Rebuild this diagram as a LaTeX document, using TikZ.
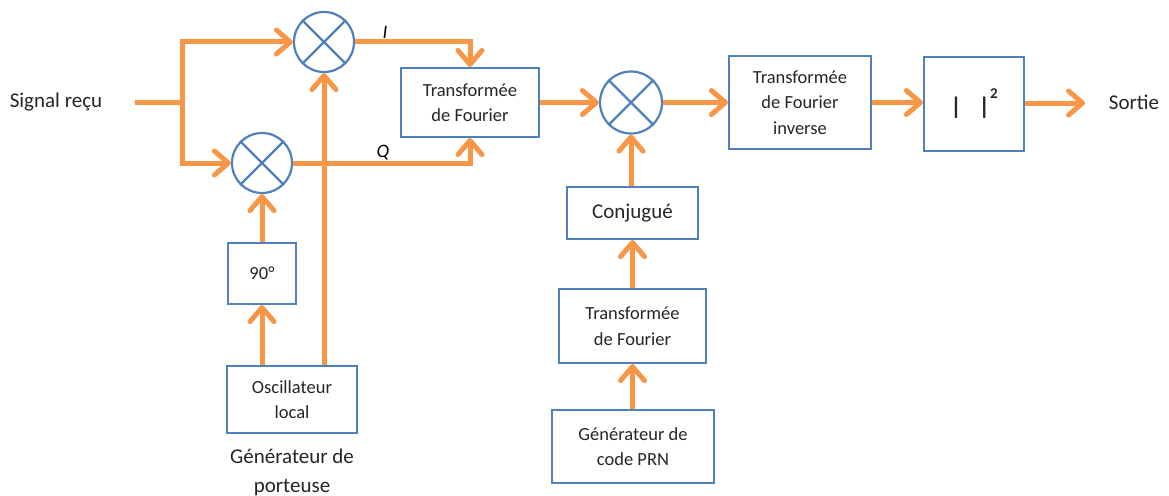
\documentclass[tikz,border=0pt]{standalone}
\usepackage{fontspec}
\setmainfont{Carlito}
\usetikzlibrary{arrows.meta}
\definecolor{orng}{HTML}{F79646}
\definecolor{blu}{HTML}{4F81BD}
\definecolor{txt}{RGB}{38,38,38}
\begin{document}
\begin{tikzpicture}[x=1pt,y=-1pt,
  box/.style={draw=blu, line width=2.2pt, rectangle, inner sep=0pt, align=center, text=txt,
              font=\fontsize{18.5}{25.5}\selectfont},
  mix/.style={draw=blu, line width=2.2pt, circle, minimum size=60pt, inner sep=0pt},
  arr/.style={draw=orng, line width=5pt, -{Straight Barb[length=14pt,width=24pt,round]}},
  wire/.style={draw=orng, line width=5pt},
  lbl/.style={text=txt, font=\fontsize{21}{29}\selectfont, align=center, inner sep=0pt},
  iq/.style={text=black, font=\fontsize{19}{19}\selectfont\itshape, inner sep=0pt}]
\useasboundingbox (0,0) rectangle (1169,495);
\fill[white] (0,0) rectangle (1169,495);

% nodes
\node[lbl] (sig) at (56,102) {Signal reçu};
\node[mix] (m1) at (324,42) {};
\node[mix] (m2) at (262,163) {};
\node[box, minimum width=68pt, minimum height=61pt] (n90) at (262,273.5) {90°};
\node[box, minimum width=130pt, minimum height=67pt] (osc) at (292,399.5) {Oscillateur\\local};
\node[lbl] (gen) at (292,472) {Générateur de\\porteuse};
\node[box, minimum width=138pt, minimum height=69pt] (ft1) at (470,102.5) {Transformée\\de Fourier};
\node[iq] (li) at (385,32) {I};
\node[iq] (lq) at (383,153) {Q};
\node[mix, minimum size=62pt] (m3) at (631,102.5) {};
\node[box, minimum width=142pt, minimum height=93pt] (fti) at (800,102.5) {Transformée\\de Fourier\\inverse};
\node[box, minimum width=100pt, minimum height=94pt, font=\fontsize{24}{25}\selectfont\bfseries] (sq) at (974,104)
  {|\hspace{17pt}|\raisebox{16pt}{\fontsize{15}{15}\selectfont\bfseries 2}};
\node[lbl] (sortie) at (1134,102) {Sortie};
\node[box, minimum width=131pt, minimum height=52pt, font=\fontsize{21}{25}\selectfont] (conj) at (632.5,213) {Conjugué};
\node[box, minimum width=147pt, minimum height=74pt] (ft2) at (632.5,326) {Transformée\\de Fourier};
\node[box, minimum width=162pt, minimum height=73pt] (prn) at (633,446.5) {Générateur de\\code PRN};

% crosses in mixers
\foreach \m in {m1,m2,m3}{
  \draw[blu, line width=2.2pt] (\m.north west) -- (\m.south east);
  \draw[blu, line width=2.2pt] (\m.north east) -- (\m.south west);
}

% coordinates
\coordinate (sin) at (135,102);
\coordinate (j) at (182,102);
\coordinate (sout) at (1085,103);

% connectors
\draw[wire] (sin) -- (j);
\draw[arr] (j) |- (m1);
\draw[arr] (j) |- (m2);
\draw[arr] (m1) -| (ft1);
\draw[arr] (m2) -| (ft1);
\draw[arr] (osc.north -| m1.south) -- (m1.south);
\draw[arr] (osc.north -| n90.south) -- (n90.south);
\draw[arr] (n90) -- (m2);
\draw[arr] (ft1) -- (m3);
\draw[arr] (m3) -- (fti);
\draw[arr] (fti) -- (sq.west |- fti.east);
\draw[arr] (sq.east |- sout) -- (sout);
\draw[arr] (conj.north -| m3.south) -- (m3.south);
\draw[arr] (ft2.north -| conj.south) -- (conj.south);
\draw[arr] (prn.north -| ft2.south) -- (ft2.south);
\end{tikzpicture}
\end{document}
